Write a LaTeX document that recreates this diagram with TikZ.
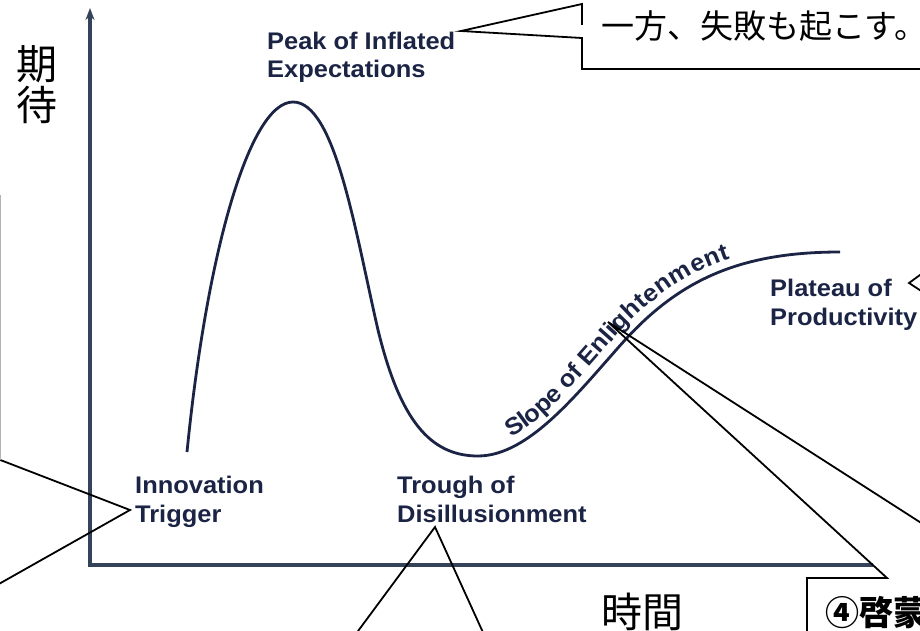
\documentclass[tikz,border=0pt]{standalone}
\usepackage{fontspec}
\setmainfont{Liberation Sans}
\newfontfamily\lblfont[FakeStretch=1.06]{Liberation Sans}
\newfontfamily\cjk{Noto Sans CJK JP}
\usetikzlibrary{arrows.meta,decorations.text}
\definecolor{navy}{HTML}{1B2444}
\definecolor{axiscol}{HTML}{34435A}
\newcommand\slopefnt{\lblfont\bfseries\fontsize{24}{24}\selectfont}
\tikzset{
  lbl/.style={font=\lblfont\bfseries\fontsize{24}{29}\selectfont, text=navy, inner sep=0pt, anchor=base west},
  jp/.style={font=\cjk\fontsize{41}{41}\selectfont, text=black, inner sep=0pt, anchor=base west},
  jpcall/.style={font=\cjk\fontsize{33}{33}\selectfont, text=black, inner sep=0pt, anchor=base west},
  jpbold/.style={font=\cjk\bfseries\fontsize{34}{34}\selectfont, text=black, inner sep=0pt, anchor=base west},
  callout/.style={draw=black, line width=1.8pt, line join=miter},
  axisline/.style={draw=axiscol, line width=3.4pt, line join=miter},
  hype/.style={draw=navy, line width=2.8pt},
  faint/.style={draw=gray!60, line width=1pt}
}
\begin{document}
\begin{tikzpicture}[x=1pt,y=1pt]
\useasboundingbox (0,0) rectangle (920,-631);
\fill[white] (0,0) rectangle (920,-631);
\begin{scope}
\clip (0,0) rectangle (920,-631);
% axes
\coordinate (ytop) at (90,-8);
\coordinate (origin) at (90,-565);
\coordinate (xend) at (873,-565);
\draw[axisline, {Stealth[length=12pt,width=9pt]}-] (ytop) -- (origin) -- (xend);
% hype curve
\draw[hype] (187,-452) .. controls (207,-250) and (250,-102) .. (293,-102)
  .. controls (335,-102) and (355,-230) .. (378,-330)
  .. controls (400,-420) and (430,-456) .. (478,-456)
  .. controls (530,-456) and (580,-390) .. (625,-340)
  .. controls (680,-280) and (740,-252) .. (840,-252);
% slope text
\path[postaction={decorate}, decoration={text along path, text={|\slopefnt|Slope of Enlightenment}, text color=navy, raise=9pt, text align={left indent=40pt}}]
  (478,-456) .. controls (530,-456) and (580,-390) .. (625,-340)
  .. controls (680,-280) and (740,-252) .. (840,-252);
% labels
\node[lbl] (peak1) at (267,-50) {Peak of Inflated};
\node[lbl] (peak2) at (267,-78) {Expectations};
\node[lbl] (inno1) at (135,-493) {Innovation};
\node[lbl] (inno2) at (135,-522) {Trigger};
\node[lbl] (trough1) at (397,-493) {Trough of};
\node[lbl] (trough2) at (397,-522) {Disillusionment};
\node[lbl] (plat1) at (770,-296) {Plateau of};
\node[lbl] (plat2) at (770,-325) {Productivity};
\node[jp] (kitai1) at (16,-80) {期};
\node[jp] (kitai2) at (16,-121) {待};
\node[jp] (jikan) at (601,-627) {時間};
% callouts
\coordinate (peaktip) at (461,-31);
\draw[callout] (945,-69) -- (582,-69) -- (582,-38) -- (peaktip) -- (582,-4) -- (582,-25);
\node[jpcall] (failtext) at (601,-39) {一方、失敗も起こす。};
\coordinate (trigtip) at (130,-510);
\draw[callout] (-10,-456) -- (trigtip) -- (-10,-589);
\draw[faint] (0.7,-195) -- (0.7,-460);
\coordinate (troughtip) at (435,-527);
\draw[callout] (344,-650) -- (troughtip) -- (491,-650);
\coordinate (slopetip) at (608,-322);
\draw[callout] (807,-650) -- (807,-578) -- (887,-578) -- (slopetip) -- (1007,-578) -- (1030,-578);
\node[jpbold] (keimou) at (825,-625) {④啓蒙};
\coordinate (plattip) at (909,-283);
\draw[callout] (935,-264) -- (plattip) -- (935,-300);
\end{scope}
\end{tikzpicture}
\end{document}
